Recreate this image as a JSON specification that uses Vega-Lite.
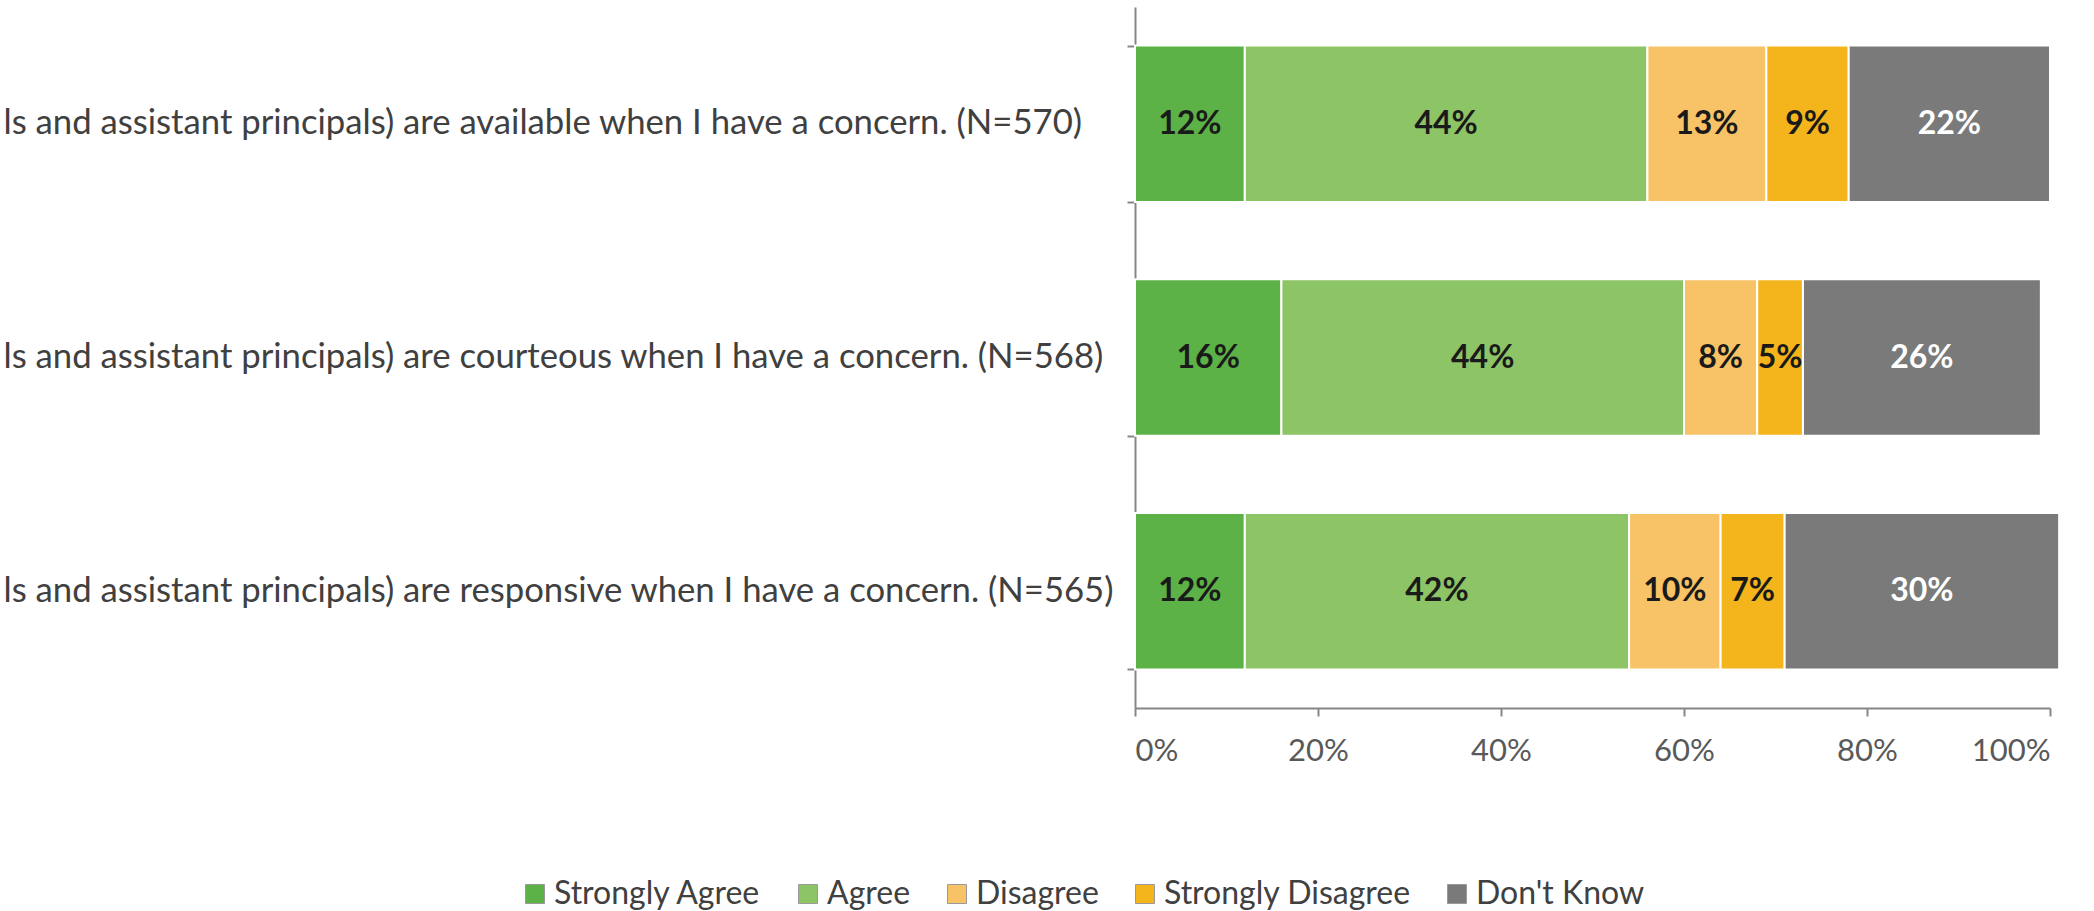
{
  "$schema": "https://vega.github.io/schema/vega-lite/v6.json",
  "autosize": {"type": "none"},
  "width": 915,
  "height": 701,
  "padding": {"left": 1135, "top": 7, "right": 44, "bottom": 203},
  "background": "white",
  "config": {
    "view": {"stroke": null},
    "font": "Lato"
  },
  "data": {
    "values": [
      {"q": "ls and assistant principals) are available when I have a concern. (N=570)", "r": "Strongly Agree", "k": 1, "v": 0.12},
      {"q": "ls and assistant principals) are available when I have a concern. (N=570)", "r": "Agree", "k": 2, "v": 0.44},
      {"q": "ls and assistant principals) are available when I have a concern. (N=570)", "r": "Disagree", "k": 3, "v": 0.13},
      {"q": "ls and assistant principals) are available when I have a concern. (N=570)", "r": "Strongly Disagree", "k": 4, "v": 0.09},
      {"q": "ls and assistant principals) are available when I have a concern. (N=570)", "r": "Don't Know", "k": 5, "v": 0.22},
      {"q": "ls and assistant principals) are courteous when I have a concern. (N=568)", "r": "Strongly Agree", "k": 1, "v": 0.16},
      {"q": "ls and assistant principals) are courteous when I have a concern. (N=568)", "r": "Agree", "k": 2, "v": 0.44},
      {"q": "ls and assistant principals) are courteous when I have a concern. (N=568)", "r": "Disagree", "k": 3, "v": 0.08},
      {"q": "ls and assistant principals) are courteous when I have a concern. (N=568)", "r": "Strongly Disagree", "k": 4, "v": 0.05},
      {"q": "ls and assistant principals) are courteous when I have a concern. (N=568)", "r": "Don't Know", "k": 5, "v": 0.26},
      {"q": "ls and assistant principals) are responsive when I have a concern. (N=565)", "r": "Strongly Agree", "k": 1, "v": 0.12},
      {"q": "ls and assistant principals) are responsive when I have a concern. (N=565)", "r": "Agree", "k": 2, "v": 0.42},
      {"q": "ls and assistant principals) are responsive when I have a concern. (N=565)", "r": "Disagree", "k": 3, "v": 0.10},
      {"q": "ls and assistant principals) are responsive when I have a concern. (N=565)", "r": "Strongly Disagree", "k": 4, "v": 0.07},
      {"q": "ls and assistant principals) are responsive when I have a concern. (N=565)", "r": "Don't Know", "k": 5, "v": 0.30}
    ]
  },
  "transform": [
    {"stack": "v", "groupby": ["q"], "sort": [{"field": "k", "order": "ascending"}], "as": ["x0", "x1"]},
    {"calculate": "(datum.x0 + datum.x1) / 2", "as": "xm"}
  ],
  "encoding": {
    "y": {
      "field": "q",
      "type": "nominal",
      "sort": null,
      "title": null,
      "scale": {"paddingInner": 0.33, "paddingOuter": 0.165},
      "axis": {
        "tickBand": "extent",
        "domainColor": "#868686",
        "domainWidth": 2,
        "tickColor": "#868686",
        "tickWidth": 2,
        "tickSize": 8,
        "labelFont": "Lato",
        "labelFontSize": 34.7,
        "labelColor": "#404040",
        "labelLimit": 2000,
        "labelAlign": "left",
        "labelPadding": 1124
      }
    }
  },
  "layer": [
    {
      "mark": {"type": "bar", "stroke": "white", "strokeWidth": 2},
      "encoding": {
        "x": {
          "field": "x0",
          "type": "quantitative",
          "scale": {"domain": [0, 1], "nice": false, "zero": true},
          "title": null,
          "axis": {
            "format": ".0%",
            "values": [0, 0.2, 0.4, 0.6, 0.8, 1],
            "grid": false,
            "domainColor": "#868686",
            "domainWidth": 2,
            "tickColor": "#868686",
            "tickWidth": 2,
            "tickSize": 8,
            "labelFont": "Lato",
            "labelFontSize": 31,
            "labelColor": "#595959",
            "labelPadding": 20
          }
        },
        "x2": {"field": "x1"},
        "color": {
          "field": "r",
          "type": "nominal",
          "scale": {
            "domain": ["Strongly Agree", "Agree", "Disagree", "Strongly Disagree", "Don't Know"],
            "range": ["#5cb246", "#8dc466", "#f8c266", "#f4b51c", "#7a7a7a"]
          },
          "legend": {
            "title": null,
            "orient": "none",
            "direction": "horizontal",
            "legendX": -616,
            "legendY": 871,
            "symbolType": "square",
            "symbolSize": 361,
            "symbolStrokeColor": "#9a9a9a",
            "symbolStrokeWidth": 1,
            "labelFont": "Lato",
            "labelFontSize": 32,
            "labelColor": "#404040",
            "labelOffset": 3,
            "columnPadding": 30,
            "labelLimit": 400
          }
        }
      }
    },
    {
      "mark": {"type": "text", "font": "Lato", "fontSize": 32, "fontWeight": "bold", "baseline": "middle", "align": "center"},
      "encoding": {
        "x": {"field": "xm", "type": "quantitative"},
        "text": {"field": "v", "type": "quantitative", "format": ".0%"},
        "color": {
          "condition": {"test": "datum.r === \"Don't Know\"", "value": "white"},
          "value": "#1a1a1a"
        }
      }
    }
  ]
}
